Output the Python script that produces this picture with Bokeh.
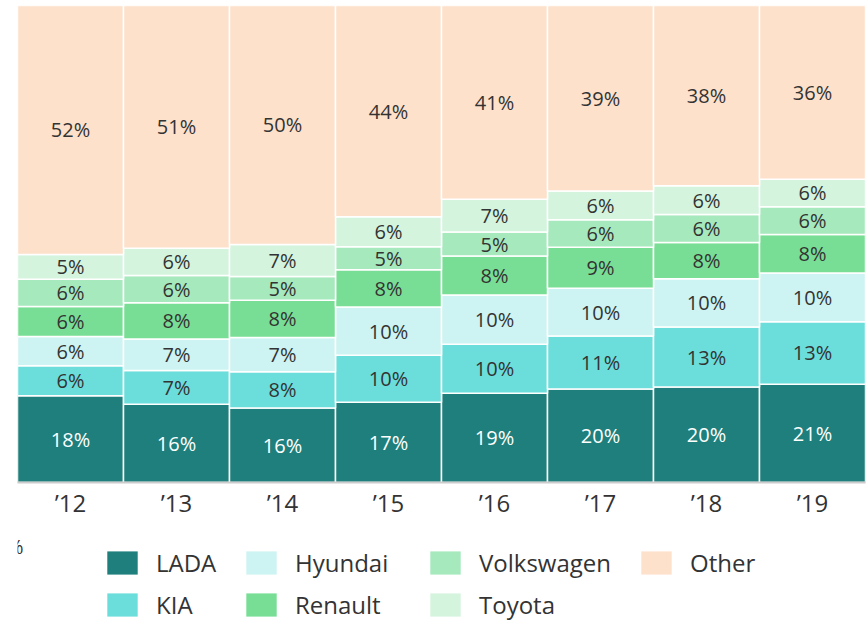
from bokeh.plotting import figure
from bokeh.models import ColumnDataSource, Legend, LegendItem, Label
from bokeh.layouts import column
from bokeh.core.properties import value
from bokeh.embed import file_html
from bokeh.resources import INLINE

years = ["\u201912", "\u201913", "\u201914", "\u201915", "\u201916", "\u201917", "\u201918", "\u201919"]
brands = ["LADA", "KIA", "Hyundai", "Renault", "Volkswagen", "Toyota", "Other"]
lada = [18.2, 16.4, 15.6, 16.8, 18.7, 19.6, 20.0, 20.6]
kia = [6.3, 7.1, 7.6, 9.9, 10.3, 11.1, 12.6, 13.1]
hyundai = [6.1, 6.6, 7.2, 10.1, 10.3, 10.0, 10.1, 10.2]
renault = [6.3, 7.6, 7.8, 7.8, 8.2, 8.6, 7.6, 8.1]
volkswagen = [5.7, 5.7, 5.0, 4.8, 5.0, 5.8, 5.9, 5.8]
toyota = [5.2, 5.7, 6.7, 6.3, 6.9, 6.0, 6.0, 5.8]
other = [52.2, 50.9, 50.1, 44.3, 40.6, 38.9, 37.8, 36.4]
colors = ["#1e7f7c", "#6bdedb", "#cdf4f2", "#79de95", "#a6e9bd", "#d4f4de", "#fde1cb"]

series = [lada, kia, hyundai, renault, volkswagen, toyota, other]
data = {"year": years}
for b, s in zip(brands, series):
    data[b] = s
source = ColumnDataSource(data)

FONT = "Open Sans"
TEXT = "#333333"

p = figure(x_range=years, y_range=(0, 100), width=868, height=530,
           output_backend="svg", toolbar_location=None,
           min_border_left=17, min_border_right=3, min_border_top=5, min_border_bottom=48)
p.outline_line_color = None
p.grid.visible = False
p.yaxis.visible = False
p.x_range.range_padding = 0

renderers = p.vbar_stack(brands, x="year", width=1.0, source=source, color=colors,
                         line_color="white", line_width=1.5)

# segment labels
lx_dark, ly_dark, lt_dark = [], [], []
lx_light, ly_light, lt_light = [], [], []
for i, yr in enumerate(years):
    base = 0.0
    for j, s in enumerate(series):
        v = s[i]
        mid = base + v / 2
        txt = f"{int(v + 0.5)}%"
        if j == 0:
            lx_light.append(yr); ly_light.append(mid); lt_light.append(txt)
        else:
            lx_dark.append(yr); ly_dark.append(mid); lt_dark.append(txt)
        base += v

p.text(x=lx_dark, y=ly_dark, text=lt_dark, text_align="center", text_baseline="middle",
       text_font=value(FONT), text_font_size="20px", text_color=TEXT)
p.text(x=lx_light, y=ly_light, text=lt_light, text_align="center", text_baseline="middle",
       text_font=value(FONT), text_font_size="20px", text_color="#ffffff")

ax = p.xaxis[0]
ax.axis_line_color = "#cccccc"
ax.axis_line_width = 2
ax.major_tick_line_color = None
ax.minor_tick_line_color = None
ax.major_tick_out = 0
ax.major_tick_in = 0
ax.major_label_standoff = 3
ax.major_label_text_font = FONT
ax.major_label_text_font_size = "24px"
ax.major_label_text_color = TEXT

# legend figure (swatch renderers have zero height, so only their legend glyphs show)
lg = figure(width=868, height=90, x_range=(0, 1), y_range=(0, 1),
            output_backend="svg", toolbar_location=None,
            x_axis_location=None, y_axis_location=None,
            min_border_left=0, min_border_right=0, min_border_top=0, min_border_bottom=0)
lg.outline_line_color = None
lg.grid.visible = False
swatches = [lg.vbar(x=[0.5], top=[0], bottom=[0], width=0.1, fill_color=c, line_color=None)
            for c in colors]

cols = [[0, 1], [2, 3], [4, 5], [6]]
xs = [86, 225, 409, 620]
for c, xl in zip(cols, xs):
    items = [LegendItem(label=brands[k], renderers=[swatches[k]]) for k in c]
    yb = -1 if len(c) == 2 else 41
    leg = Legend(items=items, location=(xl, yb),
                 orientation="vertical", glyph_width=38, glyph_height=29, label_standoff=15,
                 spacing=9, padding=0, margin=0, border_line_alpha=0,
                 background_fill_alpha=0, label_text_font=FONT, label_text_font_size="24px",
                 label_text_color=TEXT, label_height=29)
    lg.add_layout(leg)

lg.add_layout(Label(x=6, y=74, x_units="screen", y_units="screen", text="%",
                    text_align="right", text_baseline="middle", text_font=FONT,
                    text_font_size="20px", text_color=TEXT))

layout = column(p, lg, spacing=0)
open("out.html", "w").write(file_html(layout, INLINE))
